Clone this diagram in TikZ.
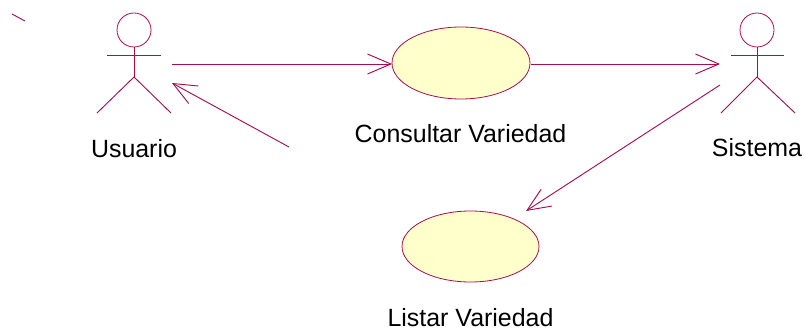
\documentclass[tikz,border=0pt]{standalone}
\usepackage{fontspec}
\setmainfont{Liberation Sans}
\usetikzlibrary{arrows.meta,shapes.geometric}
\definecolor{umlline}{RGB}{165,15,80}
\definecolor{umlfill}{RGB}{255,255,203}
\tikzset{
  wire/.style={draw=umlline,line width=0.7pt},
  flow/.style={wire,-{Straight Barb[length=17.5pt,width=15pt,line width=0.7pt]}},
  usecase/.style={ellipse,draw=umlline,fill=umlfill,line width=0.6pt,inner sep=0pt},
  headnode/.style={circle,draw=umlline,line width=0.6pt,inner sep=0pt,minimum size=25.5pt},
  caption/.style={inner sep=0pt,font=\fontsize{18.7pt}{20pt}\selectfont,text=black}
}
\begin{document}
\begin{tikzpicture}[x=0.75pt,y=-0.75pt]
\useasboundingbox (0,0) rectangle (805,331);
% use cases
\node[usecase,minimum width=103.5pt,minimum height=54pt] (uc1) at (461,63) {};
\node[usecase,minimum width=102.75pt,minimum height=53.25pt] (uc2) at (470.5,246.5) {};
\node[caption] (lc1) at (460.5,134) {Consultar Variedad};
\node[caption] (lc2) at (470.5,318) {Listar Variedad};
% actor Usuario
\node[headnode] (h1) at (134,30) {};
\coordinate (hip1) at (134,77);
\coordinate (al1) at (107,55);
\coordinate (ar1) at (161,55);
\coordinate (fl1) at (97,113);
\coordinate (fr1) at (171,113);
\draw[wire] (h1.south) -- (hip1);
\draw[wire] (al1) -- (ar1);
\draw[wire] (fl1) -- (hip1) -- (fr1);
\node[caption] (l1) at (134,148.5) {Usuario};
% actor Sistema
\node[headnode] (h2) at (757,30) {};
\coordinate (hip2) at (757,77);
\coordinate (al2) at (731,55);
\coordinate (ar2) at (784,55);
\coordinate (fl2) at (721,113);
\coordinate (fr2) at (795,113);
\draw[wire] (h2.south) -- (hip2);
\draw[wire] (al2) -- (ar2);
\draw[wire] (fl2) -- (hip2) -- (fr2);
\node[caption] (l2) at (757,148) {Sistema};
% connectors
\coordinate (a1out) at (172,64);
\coordinate (a1in) at (172,83);
\coordinate (free) at (289,147);
\coordinate (a2in) at (720,64);
\coordinate (a2out) at (720,85);
\coordinate (uc1out) at (531,64);
\coordinate (uc1in) at (392,64);
\coordinate (uc2in) at (526,211);
\coordinate (t1) at (12,14);
\coordinate (t2) at (25,21);
\draw[flow] (a1out) -- (uc1in);
\draw[flow] (uc1out) -- (a2in);
\draw[flow] (a2out) -- (uc2in);
\draw[flow] (free) -- (a1in);
\draw[wire] (t1) -- (t2);
\end{tikzpicture}
\end{document}
